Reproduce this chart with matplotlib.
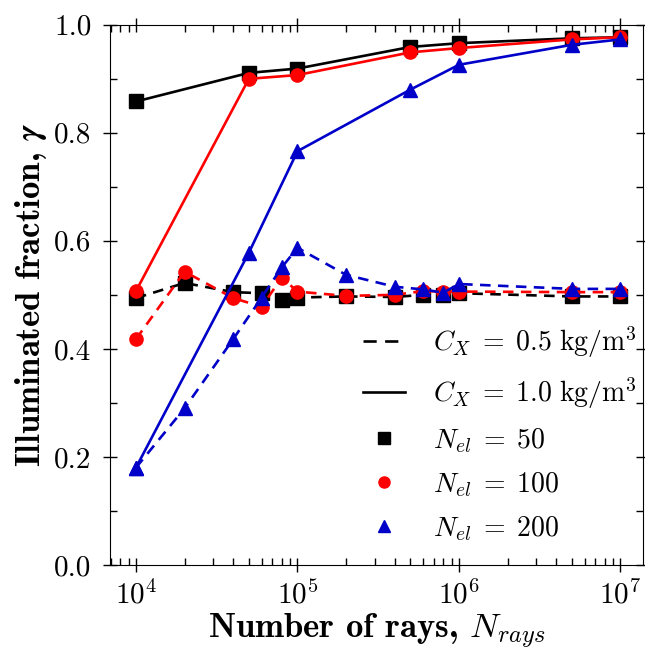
import numpy as np
import matplotlib
matplotlib.use('Agg')
from matplotlib import pyplot as plt
from matplotlib.lines import Line2D
from matplotlib.ticker import LogLocator, MultipleLocator, NullFormatter, FormatStrFormatter

plt.rcParams['font.family'] = 'serif'
plt.rcParams['font.serif'] = ['cmr10']
plt.rcParams['mathtext.fontset'] = 'cm'
plt.rcParams['axes.formatter.use_mathtext'] = True

# C_X = 1.0 kg/m^3 (solid)
rays_hi = [1e4, 5e4, 1e5, 5e5, 1e6, 5e6, 1e7]
hi_50 = [0.858, 0.911, 0.919, 0.959, 0.966, 0.975, 0.977]
hi_100 = [0.507, 0.900, 0.907, 0.949, 0.957, 0.973, 0.977]
hi_200 = [0.180, 0.578, 0.766, 0.880, 0.926, 0.963, 0.973]

# C_X = 0.5 kg/m^3 (dashed)
rays_lo = [1e4, 2e4, 4e4, 6e4, 8e4, 1e5, 2e5, 4e5, 6e5, 8e5, 1e6, 5e6, 1e7]
lo_50 = [0.494, 0.522, 0.505, 0.503, 0.491, 0.495, 0.497, 0.496, 0.500, 0.499, 0.503, 0.497, 0.497]
lo_100 = [0.418, 0.543, 0.494, 0.478, 0.532, 0.506, 0.498, 0.500, 0.507, 0.506, 0.506, 0.505, 0.505]
lo_200 = [0.180, 0.290, 0.418, 0.495, 0.551, 0.587, 0.537, 0.515, 0.510, 0.504, 0.520, 0.511, 0.511]

colors = ['black', '#ff0000', '#0000c8']
markers = ['s', 'o', '^']
labels = ['50', '100', '200']

fig = plt.figure(figsize=(6.45, 6.53), dpi=100)
ax = fig.add_axes([0.170, 0.135, 0.827, 0.827])

lw = 1.9
dash = (4.0, 2.8)
for ys, c, m in zip([lo_50, lo_100, lo_200], colors, markers):
    ax.plot(rays_lo, ys, color=c, marker=m, ms=9.5, lw=lw, dashes=dash)
for ys, c, m in zip([hi_50, hi_100, hi_200], colors, markers):
    ax.plot(rays_hi, ys, color=c, marker=m, ms=9.5, lw=lw)

ax.set_xscale('log')
ax.set_xlim(6.87e3, 1.38e7)
ax.set_ylim(0, 1.0)
ax.yaxis.set_major_locator(MultipleLocator(0.2))
ax.yaxis.set_minor_locator(MultipleLocator(0.1))
ax.xaxis.set_minor_locator(LogLocator(base=10, subs=np.arange(2, 10)))
ax.xaxis.set_minor_formatter(NullFormatter())
ax.yaxis.set_major_formatter(FormatStrFormatter('%.1f'))

ax.tick_params(which='major', direction='inout', length=10, width=1, labelsize=21,
               top=True, right=True)
ax.tick_params(which='minor', direction='in', length=5, width=1, top=True, right=True)
ax.tick_params(axis='x', which='major', pad=6)
ax.tick_params(axis='y', which='major', pad=8)

ax.set_xlabel(r'Number of rays, $\boldsymbol{N_{rays}}$', fontsize=25, fontname='cmb10',
              labelpad=2)
ax.set_ylabel(r'Illuminated fraction, $\boldsymbol{\gamma}$', fontsize=25, fontname='cmb10',
              labelpad=4)

handles = [
    Line2D([], [], color='black', lw=lw, dashes=(5.0, 3.2)),
    Line2D([], [], color='black', lw=lw),
    Line2D([], [], color=colors[0], marker='s', ls='none', ms=8),
    Line2D([], [], color=colors[1], marker='o', ls='none', ms=8),
    Line2D([], [], color=colors[2], marker='^', ls='none', ms=8),
]
leg_labels = [r'$C_X \;=\; 0.5\ \mathrm{kg/m}^3$', r'$C_X \;=\; 1.0\ \mathrm{kg/m}^3$'] + \
             [r'$N_{el} \;=\; %s$' % l for l in labels]
ax.legend(handles, leg_labels, loc='lower right', frameon=False, fontsize=20,
          handlelength=1.5, handletextpad=1.0, labelspacing=0.55,
          bbox_to_anchor=(1.035, -0.005))

fig.savefig('out.png', dpi=100)
